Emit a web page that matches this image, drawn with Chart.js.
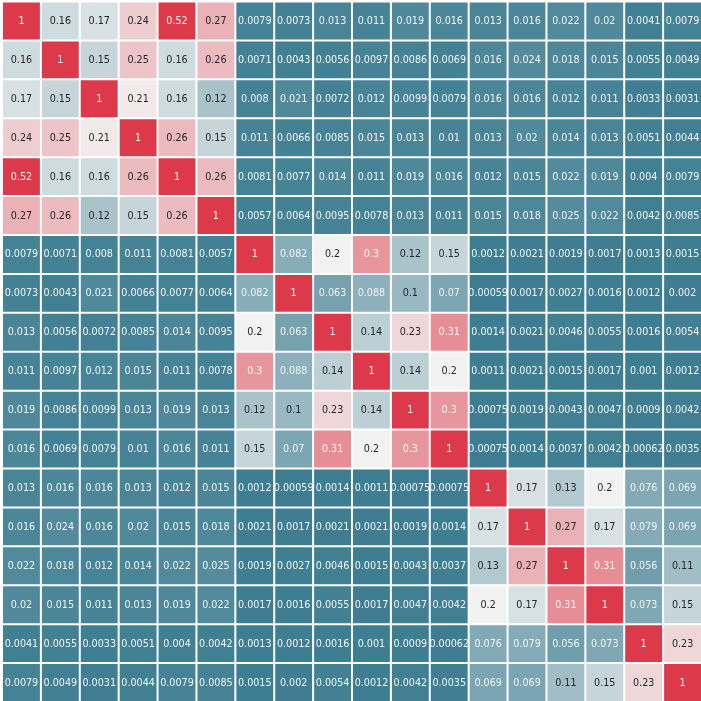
<!DOCTYPE html>
<html>
<head>
<meta charset="utf-8">
<script src="https://cdn.jsdelivr.net/npm/chart.js@4.4.1/dist/chart.umd.min.js"></script>
<style>
html,body{margin:0;padding:0;background:#ffffff;overflow:hidden;}
#wrap{width:702px;height:702px;position:relative;}
</style>
</head>
<body>
<div id="wrap"><canvas id="c"></canvas></div>
<script>
// Column / row category labels (hidden in the picture, as in the reference)
const categories = ['0','1','2','3','4','5','6','7','8','9','10','11','12','13','14','15','16','17'];

// Correlation matrix rows
const row0  = [1, 0.16, 0.17, 0.24, 0.52, 0.27, 0.0079, 0.0073, 0.013, 0.011, 0.019, 0.016, 0.013, 0.016, 0.022, 0.02, 0.0041, 0.0079];
const row1  = [0.16, 1, 0.15, 0.25, 0.16, 0.26, 0.0071, 0.0043, 0.0056, 0.0097, 0.0086, 0.0069, 0.016, 0.024, 0.018, 0.015, 0.0055, 0.0049];
const row2  = [0.17, 0.15, 1, 0.21, 0.16, 0.12, 0.008, 0.021, 0.0072, 0.012, 0.0099, 0.0079, 0.016, 0.016, 0.012, 0.011, 0.0033, 0.0031];
const row3  = [0.24, 0.25, 0.21, 1, 0.26, 0.15, 0.011, 0.0066, 0.0085, 0.015, 0.013, 0.01, 0.013, 0.02, 0.014, 0.013, 0.0051, 0.0044];
const row4  = [0.52, 0.16, 0.16, 0.26, 1, 0.26, 0.0081, 0.0077, 0.014, 0.011, 0.019, 0.016, 0.012, 0.015, 0.022, 0.019, 0.004, 0.0079];
const row5  = [0.27, 0.26, 0.12, 0.15, 0.26, 1, 0.0057, 0.0064, 0.0095, 0.0078, 0.013, 0.011, 0.015, 0.018, 0.025, 0.022, 0.0042, 0.0085];
const row6  = [0.0079, 0.0071, 0.008, 0.011, 0.0081, 0.0057, 1, 0.082, 0.2, 0.3, 0.12, 0.15, 0.0012, 0.0021, 0.0019, 0.0017, 0.0013, 0.0015];
const row7  = [0.0073, 0.0043, 0.021, 0.0066, 0.0077, 0.0064, 0.082, 1, 0.063, 0.088, 0.1, 0.07, 0.00059, 0.0017, 0.0027, 0.0016, 0.0012, 0.002];
const row8  = [0.013, 0.0056, 0.0072, 0.0085, 0.014, 0.0095, 0.2, 0.063, 1, 0.14, 0.23, 0.31, 0.0014, 0.0021, 0.0046, 0.0055, 0.0016, 0.0054];
const row9  = [0.011, 0.0097, 0.012, 0.015, 0.011, 0.0078, 0.3, 0.088, 0.14, 1, 0.14, 0.2, 0.0011, 0.0021, 0.0015, 0.0017, 0.001, 0.0012];
const row10 = [0.019, 0.0086, 0.0099, 0.013, 0.019, 0.013, 0.12, 0.1, 0.23, 0.14, 1, 0.3, 0.00075, 0.0019, 0.0043, 0.0047, 0.0009, 0.0042];
const row11 = [0.016, 0.0069, 0.0079, 0.01, 0.016, 0.011, 0.15, 0.07, 0.31, 0.2, 0.3, 1, 0.00075, 0.0014, 0.0037, 0.0042, 0.00062, 0.0035];
const row12 = [0.013, 0.016, 0.016, 0.013, 0.012, 0.015, 0.0012, 0.00059, 0.0014, 0.0011, 0.00075, 0.00075, 1, 0.17, 0.13, 0.2, 0.076, 0.069];
const row13 = [0.016, 0.024, 0.016, 0.02, 0.015, 0.018, 0.0021, 0.0017, 0.0021, 0.0021, 0.0019, 0.0014, 0.17, 1, 0.27, 0.17, 0.079, 0.069];
const row14 = [0.022, 0.018, 0.012, 0.014, 0.022, 0.025, 0.0019, 0.0027, 0.0046, 0.0015, 0.0043, 0.0037, 0.13, 0.27, 1, 0.31, 0.056, 0.11];
const row15 = [0.02, 0.015, 0.011, 0.013, 0.019, 0.022, 0.0017, 0.0016, 0.0055, 0.0017, 0.0047, 0.0042, 0.2, 0.17, 0.31, 1, 0.073, 0.15];
const row16 = [0.0041, 0.0055, 0.0033, 0.0051, 0.004, 0.0042, 0.0013, 0.0012, 0.0016, 0.001, 0.0009, 0.00062, 0.076, 0.079, 0.056, 0.073, 1, 0.23];
const row17 = [0.0079, 0.0049, 0.0031, 0.0044, 0.0079, 0.0085, 0.0015, 0.002, 0.0054, 0.0012, 0.0042, 0.0035, 0.069, 0.069, 0.11, 0.15, 0.23, 1];

const matrix = [row0,row1,row2,row3,row4,row5,row6,row7,row8,row9,row10,row11,row12,row13,row14,row15,row16,row17];

// Colour scale (diverging teal -> light grey -> red)
const VMIN = 0, VCENTER = 0.2, VMAX = 0.4;
const C_LOW = [61,125,145], C_MID = [242,242,242], C_HIGH = [220,58,74];

function mix(a,b,t){return [0,1,2].map(i=>Math.round(a[i]+(b[i]-a[i])*t));}
function colorFor(v){
  let t = (v - VMIN)/(VMAX - VMIN);
  t = Math.max(0, Math.min(1, t));
  return t < 0.5 ? mix(C_LOW, C_MID, t/0.5) : mix(C_MID, C_HIGH, (t-0.5)/0.5);
}
function rgbStr(c){return 'rgb('+c[0]+','+c[1]+','+c[2]+')';}
function lum(c){
  const l = c.map(x=>{x/=255;return x<=0.03928? x/12.92 : Math.pow((x+0.055)/1.055,2.4);});
  return 0.2126*l[0]+0.7152*l[1]+0.0722*l[2];
}
function fmt(v){return Number(v.toPrecision(2)).toString();}

const datasets = matrix.map((row, r) => ({
  label: 'row ' + r,
  data: row.map(() => [r, r+1]),
  values: row,
  backgroundColor: row.map(v => rgbStr(colorFor(v))),
  borderColor: '#ffffff',
  borderWidth: 1,
  borderSkipped: false,
  inflateAmount: 0,
  barPercentage: 1,
  categoryPercentage: 1,
  grouped: false
}));

const annotate = {
  id: 'annotate',
  afterDatasetsDraw(chart){
    const ctx = chart.ctx;
    ctx.save();
    ctx.font = '9.6px "DejaVu Sans"';
    ctx.textAlign = 'center';
    ctx.textBaseline = 'middle';
    chart.data.datasets.forEach((ds, di) => {
      const meta = chart.getDatasetMeta(di);
      meta.data.forEach((el, i) => {
        const v = ds.values[i];
        const c = colorFor(v);
        ctx.fillStyle = lum(c) > 0.425 ? 'rgb(38,38,38)' : '#f4f4f4';
        const cy = (el.y + el.base)/2;
        ctx.fillText(fmt(v), el.x, cy + 0.5);
      });
    });
    ctx.restore();
  }
};

new Chart(document.getElementById('c'), {
  type: 'bar',
  data: { labels: categories, datasets: datasets },
  options: {
    responsive: true,
    maintainAspectRatio: false,
    animation: false,
    layout: { padding: { left: 2, top: 1.5, right: 0, bottom: 0 } },
    plugins: { legend: { display: false }, tooltip: { enabled: false } },
    scales: {
      x: { type: 'category', display: false, offset: true, grid: { display: false } },
      y: { type: 'linear', display: false, min: 0, max: 18, reverse: true, grid: { display: false } }
    }
  },
  plugins: [annotate]
});
</script>
</body>
</html>
